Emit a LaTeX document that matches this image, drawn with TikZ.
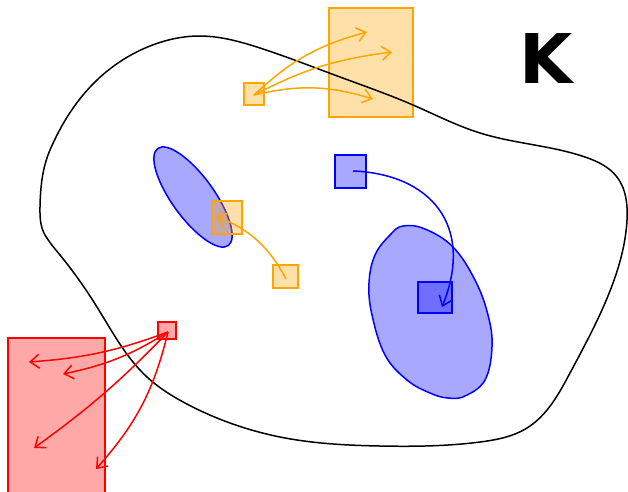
\documentclass[tikz,border=0pt]{standalone}
\usepackage{fontspec}
\newfontfamily\kfont{DejaVu Sans}
\usetikzlibrary{arrows.meta,hobby}
\definecolor{org}{RGB}{255,165,0}
\tikzset{
  box/.style={draw=#1, fill=#1, fill opacity=0.34, draw opacity=1, line width=1.5pt, minimum width=0pt, minimum height=0pt, inner sep=0pt},
  arr/.style={draw=#1, line width=1.5pt, -{Straight Barb[length=9pt,width=14pt,line width=1.5pt]}},
  blob/.style={draw=blue, fill=blue, fill opacity=0.34, line width=1.5pt},
}
\begin{document}
\begin{tikzpicture}[x=1pt,y=-1pt]
\useasboundingbox (0,0) rectangle (628,491);
% blobs
\filldraw[blob] (193,197) ellipse [x radius=60, y radius=21, rotate=-54];
\filldraw[blob] plot[smooth cycle, tension=0.65] coordinates {(403,226) (425,229) (453,247) (475,280) (488,315) (492,347) (485,380) (465,396) (448,398) (430,393) (407,380) (385,355) (372,315) (369,283) (375,255) (390,235)};
% boxes
\node[box=org, minimum width=84pt, minimum height=109pt] (obig) at (371,62.5) {};
\node[box=org, minimum width=20pt, minimum height=22pt] (osmall) at (254,94) {};
\node[box=org, minimum width=30pt, minimum height=33pt] (omid) at (227,217.5) {};
\node[box=org, minimum width=25pt, minimum height=23pt] (olow) at (285.5,276.5) {};
\node[box=blue, minimum width=31pt, minimum height=33pt] (bsmall) at (350.5,171.5) {};
\node[box=blue, minimum width=34pt, minimum height=31pt] (bdark) at (435,297.5) {};
\node[box=red, minimum width=18pt, minimum height=17pt] (rsmall) at (167,330.5) {};
\node[box=red, minimum width=97pt, minimum height=166pt] (rbig) at (56.5,421) {};
% outline K
\draw[line width=1.5pt, black, use Hobby shortcut, closed=true] (40,207) .. (50,150) .. (97,80) .. (150,46) .. (200,36) .. (260,48) .. (340,77) .. (413,105) .. (480,133) .. (585,157) .. (617,177) .. (627,220) .. (613,283) .. (570,373) .. (527,428) .. (480,442) .. (380,446) .. (280,437) .. (230,423) .. (185,403) .. (147,377) .. (97,307) .. (60,255) .. (45,235);
\node[anchor=base, inner sep=0pt, font=\kfont\bfseries\fontsize{68.6}{70}\selectfont] (K) at (546,83) {K};
% arrow ends
\coordinate (o1) at (254,95);
\coordinate (t1) at (367,32);
\coordinate (t2) at (392,52);
\coordinate (t3) at (373,99);
\coordinate (o2) at (286,279);
\coordinate (t4) at (216,216);
\coordinate (o3) at (353,171);
\coordinate (t5) at (442,307);
\coordinate (o4) at (168,332);
\coordinate (r1) at (29,362);
\coordinate (r2) at (63,374);
\coordinate (r3) at (34,448);
\coordinate (r4) at (96,469);
% arrows
\draw[arr=org] (o1) to[bend left=14] (t1);
\draw[arr=org] (o1) to[bend left=10] (t2);
\draw[arr=org] (o1) to[bend left=15] (t3);
\draw[arr=org] (o2) to[bend right=20] (t4);
\draw[arr=blue] (o3) .. controls (430,174) and (475,225) .. (t5);
\draw[arr=red] (o4) to[bend left=8] (r1);
\draw[arr=red] (o4) to[bend left=10] (r2);
\draw[arr=red] (o4) to[bend left=5] (r3);
\draw[arr=red] (o4) to[bend left=14] (r4);
\end{tikzpicture}
\end{document}
